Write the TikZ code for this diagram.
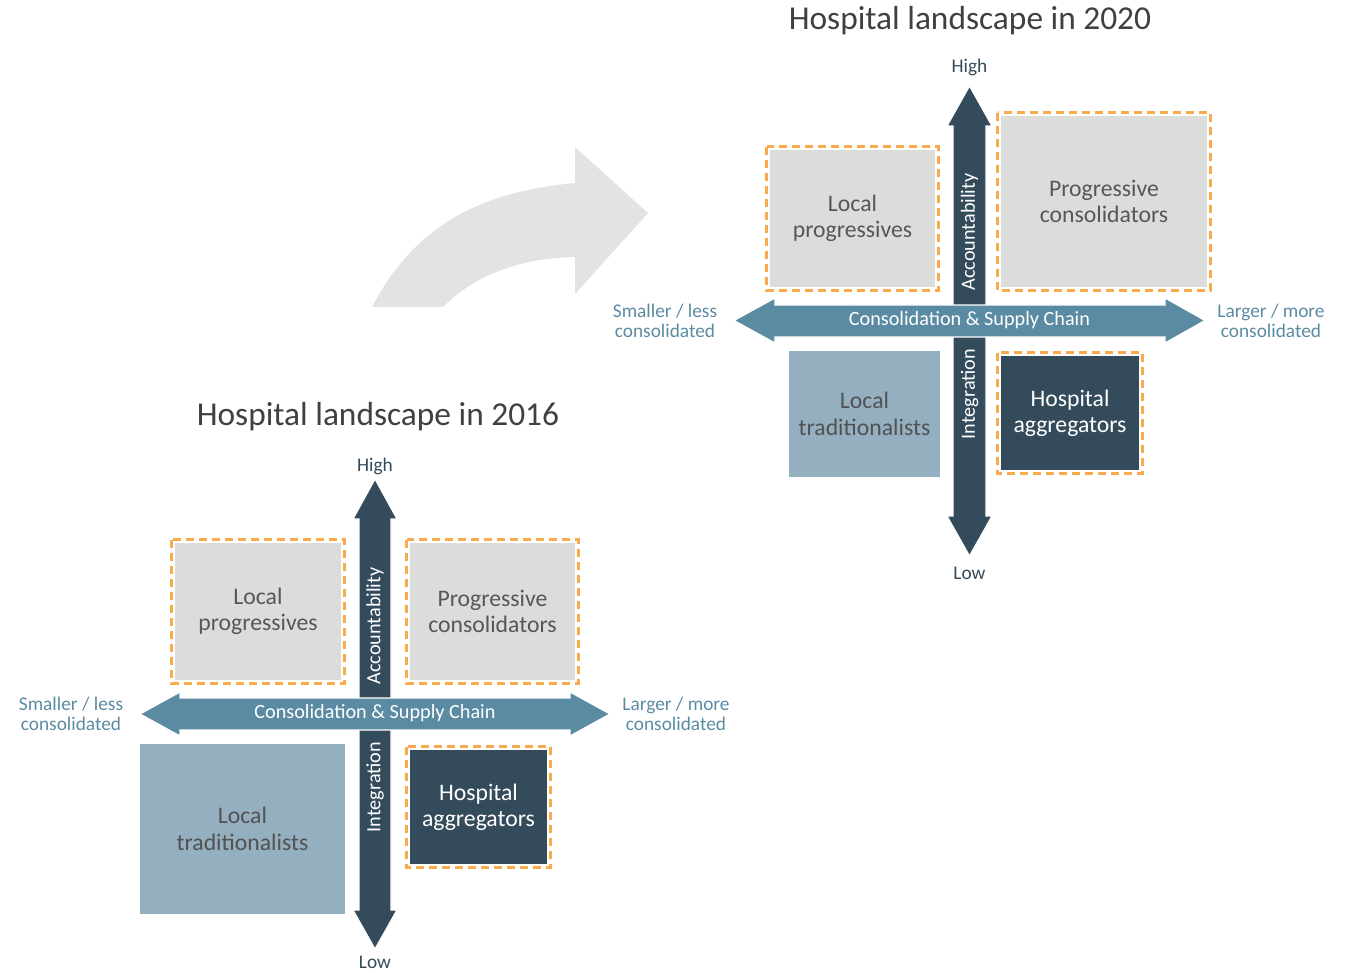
\documentclass[tikz,border=0pt]{standalone}
\usepackage{fontspec}
\setmainfont{Carlito}
\definecolor{navy}{HTML}{344B5B}
\definecolor{steel}{HTML}{5B8BA3}
\definecolor{paleblue}{HTML}{94AFC0}
\definecolor{lightgrey}{HTML}{DCDCDA}
\definecolor{dashorange}{HTML}{F9AA4C}
\definecolor{swoosh}{HTML}{E3E3E3}
\definecolor{titlegrey}{HTML}{404040}

\begin{document}
\begin{tikzpicture}[x=0.02cm, y=-0.02cm,
  box/.style={inner sep=0, outer sep=0, align=center, font=\fontsize{13.5}{15}\selectfont},
  greybox/.style={box, fill=lightgrey, text=black!66},
  bluebox/.style={box, fill=paleblue, text=black!68},
  navybox/.style={box, fill=navy, text=white},
  frame/.style={draw=dashorange, line width=1.4pt, dash pattern=on 4.8pt off 2.6pt},
  axis/.style={fill=navy, draw=white, line width=0.7pt},
  hbar/.style={fill=steel, draw=white, line width=0.7pt},
  bartext/.style={text=white, font=\fontsize{11.5}{13}\selectfont, inner sep=0},
  endlbl/.style={text=navy, font=\fontsize{11}{13}\selectfont},
  sidelbl/.style={text=steel, align=center, font=\fontsize{11}{11.5}\selectfont},
  heading/.style={text=titlegrey, font=\fontsize{19}{22}\selectfont}]

\useasboundingbox (0,0) rectangle (1347,973);

% curved arrow from 2016 to 2020
\fill[swoosh] (372,307) .. controls (415,225) and (480,192) .. (575,183) -- (575,147) -- (648,213) -- (575,294) -- (575,257) .. controls (520,258) and (475,275) .. (443,307) -- cycle;

% ---------- 2016 ----------
\path (378,417) node[heading] (title16) {Hospital landscape in 2016};

\path (258,611.5) node[greybox, minimum width=3.32cm, minimum height=2.74cm] (lp16) {Local\\progressives};
\path (492.5,611.5) node[greybox, minimum width=3.3cm, minimum height=2.74cm] (pc16) {Progressive\\consolidators};
\path (242.5,829) node[bluebox, minimum width=4.1cm, minimum height=3.4cm] (lt16) {Local\\traditionalists};
\path (478.5,807) node[navybox, minimum width=2.74cm, minimum height=2.28cm] (ha16) {Hospital\\aggregators};

\draw[frame] ([shift={(-3.5,-3.5)}]lp16.north west) rectangle ([shift={(3.5,3.5)}]lp16.south east);
\draw[frame] ([shift={(-3.5,-3.5)}]pc16.north west) rectangle ([shift={(3.5,3.5)}]pc16.south east);
\draw[frame] ([shift={(-3.5,-3.5)}]ha16.north west) rectangle ([shift={(3.5,3.5)}]ha16.south east);

% vertical axis, then horizontal axis on top
\path[axis] (375,479) -- (397,519) -- (391,519) -- (391,910) -- (397,910) -- (375,949) -- (353,910) -- (359,910) -- (359,519) -- (353,519) -- cycle;
\path[hbar] (140,714) -- (180,692) -- (180,698) -- (570,698) -- (570,692) -- (610,714) -- (570,736) -- (570,730) -- (180,730) -- (180,736) -- cycle;

\path (375,626) node[bartext, rotate=90] (acc16) {Accountability};
\path (375,787) node[bartext, rotate=90] (int16) {Integration};
\path (375,713) node[bartext] (csc16) {Consolidation \& Supply Chain};

\path (375,466) node[endlbl] (high16) {High};
\path (375,962) node[endlbl] (low16) {Low};
\path (71,714) node[sidelbl] (small16) {Smaller / less\\consolidated};
\path (676,714) node[sidelbl] (large16) {Larger / more\\consolidated};

% ---------- 2020 ----------
\path (970,21) node[heading] (title20) {Hospital landscape in 2020};

\path (852.5,218.5) node[greybox, minimum width=3.3cm, minimum height=2.74cm] (lp20) {Local\\progressives};
\path (1104,201.5) node[greybox, minimum width=4.12cm, minimum height=3.42cm] (pc20) {Progressive\\consolidators};
\path (864.5,414) node[bluebox, minimum width=3.02cm, minimum height=2.52cm] (lt20) {Local\\traditionalists};
\path (1070,413) node[navybox, minimum width=2.76cm, minimum height=2.28cm] (ha20) {Hospital\\aggregators};

\draw[frame] ([shift={(-3.5,-3.5)}]lp20.north west) rectangle ([shift={(3.5,3.5)}]lp20.south east);
\draw[frame] ([shift={(-3.5,-3.5)}]pc20.north west) rectangle ([shift={(3.5,3.5)}]pc20.south east);
\draw[frame] ([shift={(-3.5,-3.5)}]ha20.north west) rectangle ([shift={(3.5,3.5)}]ha20.south east);

\path[axis] (969.5,86) -- (992,126) -- (986,126) -- (986,516) -- (992,516) -- (969.5,556) -- (947,516) -- (953,516) -- (953,126) -- (947,126) -- cycle;
\path[hbar] (734,320.5) -- (775,298) -- (775,305) -- (1165,305) -- (1165,298) -- (1205,320.5) -- (1165,343) -- (1165,337) -- (775,337) -- (775,343) -- cycle;

\path (969.5,232) node[bartext, rotate=90] (acc20) {Accountability};
\path (969.5,394) node[bartext, rotate=90] (int20) {Integration};
\path (969.5,320) node[bartext] (csc20) {Consolidation \& Supply Chain};

\path (969.5,67) node[endlbl] (high20) {High};
\path (969.5,573) node[endlbl] (low20) {Low};
\path (665,321) node[sidelbl] (small20) {Smaller / less\\consolidated};
\path (1271,321) node[sidelbl] (large20) {Larger / more\\consolidated};

\end{tikzpicture}
\end{document}
